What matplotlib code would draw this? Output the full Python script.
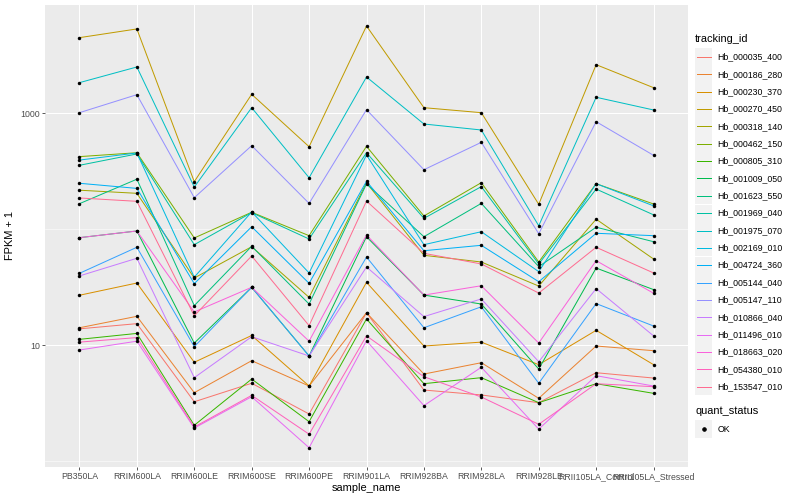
import matplotlib
matplotlib.use('Agg')
import matplotlib.pyplot as plt
from matplotlib.lines import Line2D
from matplotlib.patches import Rectangle
from matplotlib.ticker import FixedLocator, NullFormatter

plt.rcParams['font.family'] = ['Liberation Sans', 'DejaVu Sans']

# サンプル名 (x軸)
samples = ['PB350LA', 'RRIM600LA', 'RRIM600LE', 'RRIM600SE', 'RRIM600PE', 'RRIM901LA',
           'RRIM928BA', 'RRIM928LA', 'RRIM928LE', 'RRII105LA_Control', 'RRII105LA_Stressed']

# 遺伝子ID
tracking_ids = ['Hb_000035_400', 'Hb_000186_280', 'Hb_000230_370', 'Hb_000270_450', 'Hb_000318_140',
                'Hb_000462_150', 'Hb_000805_310', 'Hb_001009_050', 'Hb_001623_550', 'Hb_001969_040',
                'Hb_001975_070', 'Hb_002169_010', 'Hb_004724_360', 'Hb_005144_040', 'Hb_005147_110',
                'Hb_010866_040', 'Hb_011496_010', 'Hb_018663_020', 'Hb_054380_010', 'Hb_153547_010']

# ggplot風の色
colors = ['#F8766D', '#EA8331', '#D89000', '#C09B00', '#A3A500', '#7CAE00', '#39B600', '#00BB4E',
          '#00BF7D', '#00C1A3', '#00BFC4', '#00BAE0', '#00B0F6', '#35A2FF', '#9590FF', '#C77CFF',
          '#E76BF3', '#FA62DB', '#FF62BC', '#FF6C91']

# FPKM + 1 の値 (サンプル順)
Hb_000035_400 = [13.8, 15.3, 3.24, 4.68, 2.54, 19.0, 4.09, 3.71, 3.18, 5.77, 5.19]
Hb_000186_280 = [14.1, 17.7, 3.88, 7.33, 4.43, 19.0, 5.62, 7.04, 3.47, 9.81, 8.94]
Hb_000230_370 = [26.9, 34.3, 7.10, 12.1, 4.43, 34.8, 9.81, 10.6, 6.77, 13.4, 6.77]
Hb_000270_450 = [4500, 5350, 257, 1460, 515, 5675, 1119, 1013, 164, 2630, 1665]
Hb_000318_140 = [217, 204, 37.9, 70.6, 25.8, 252, 59.5, 52.1, 32.3, 122, 55.3]
Hb_000462_150 = [423, 457, 84.0, 140, 87.9, 519, 130, 252, 52.1, 247, 165]
Hb_000805_310 = [11.2, 12.6, 2.03, 5.09, 2.18, 16.8, 4.64, 5.23, 3.18, 4.64, 3.83]
Hb_001009_050 = [84.5, 96.5, 10.4, 31.5, 8.05, 86.1, 27.0, 22.6, 6.21, 46.2, 30.1]
Hb_001623_550 = [166, 270, 21.9, 71.2, 22.6, 246, 86.1, 167, 47.5, 104, 78.0]
Hb_001969_040 = [356, 446, 73.5, 139, 82.3, 457, 124, 233, 50.1, 222, 133]
Hb_001975_070 = [1840, 2512, 231, 1119, 278, 2060, 809, 718, 107, 1376, 1069]
Hb_002169_010 = [395, 455, 38.5, 141, 41.9, 437, 73.5, 95.1, 43.0, 247, 159]
Hb_004724_360 = [249, 225, 33.9, 105, 34.1, 259, 65.2, 72.6, 35.2, 92.2, 87.9]
Hb_005144_040 = [41.6, 69.8, 9.68, 31.5, 8.05, 57.5, 14.1, 21.4, 4.68, 22.8, 14.6]
Hb_005147_110 = [1013, 1449, 187, 526, 167, 1075, 326, 562, 91.4, 847, 434]
Hb_010866_040 = [39.5, 56.1, 5.23, 11.8, 8.05, 47.2, 17.6, 25.0, 7.18, 30.7, 12.0]
Hb_011496_010 = [9.06, 10.8, 1.92, 3.58, 1.30, 10.9, 3.00, 6.43, 1.88, 5.44, 4.43]
Hb_018663_020 = [84.5, 96.5, 19.3, 31.5, 10.8, 89.1, 27.0, 32.5, 10.4, 53.5, 28.0]
Hb_054380_010 = [10.6, 11.6, 1.96, 3.68, 1.70, 12.0, 5.33, 3.56, 2.07, 4.64, 4.37]
Hb_153547_010 = [186, 174, 17.9, 58.7, 14.7, 175, 61.9, 50.1, 28.1, 69.8, 41.9]

series = [Hb_000035_400, Hb_000186_280, Hb_000230_370, Hb_000270_450, Hb_000318_140,
          Hb_000462_150, Hb_000805_310, Hb_001009_050, Hb_001623_550, Hb_001969_040,
          Hb_001975_070, Hb_002169_010, Hb_004724_360, Hb_005144_040, Hb_005147_110,
          Hb_010866_040, Hb_011496_010, Hb_018663_020, Hb_054380_010, Hb_153547_010]

W, H = 800, 500
fig = plt.figure(figsize=(W / 72, H / 72), dpi=72)
ax = fig.add_axes([45 / W, 33 / H, 643 / W, 462 / H])
ax.set_facecolor('#EBEBEB')

xs = list(range(len(samples)))
for vals, c in zip(series, colors):
    ax.plot(xs, vals, color=c, lw=1.0, zorder=2)
for vals in series:
    ax.scatter(xs, vals, color='black', s=12, zorder=3, linewidths=0)

ax.set_yscale('log')
ax.set_ylim(0.886, 8610)
ax.set_xlim(-0.6, len(samples) - 0.4)

ax.yaxis.set_major_locator(FixedLocator([10, 1000]))
ax.yaxis.set_minor_locator(FixedLocator([1, 100]))
ax.yaxis.set_minor_formatter(NullFormatter())
ax.set_yticklabels(['10', '1000'])
ax.set_xticks(xs)
ax.set_xticklabels(samples)

ax.grid(True, which='major', color='white', lw=1.07, zorder=0)
ax.grid(True, which='minor', axis='y', color='white', lw=0.53, zorder=0)
ax.set_axisbelow(True)
for sp in ax.spines.values():
    sp.set_visible(False)
ax.tick_params(which='major', length=2.75, width=0.8, color='#333333', labelcolor='#4D4D4D',
               labelsize=8.8, pad=2)
ax.tick_params(which='minor', length=0)

ax.set_xlabel('sample_name', fontsize=11, labelpad=2)
ax.set_ylabel('FPKM + 1', fontsize=11, labelpad=6)


# 凡例は手で描く (ピクセル位置 -> 図の座標)
def fx(px):
    return px / W


def fy(py):
    return 1 - py / H


KEY = 17.28
PITCH = 17.35
kx = 695

fig.text(fx(kx), fy(39), 'tracking_id', fontsize=11, va='center', ha='left')
for i, (tid, c) in enumerate(zip(tracking_ids, colors)):
    yc = 57 + i * PITCH
    fig.add_artist(Rectangle((fx(kx), fy(yc + KEY / 2)), KEY / W, KEY / H,
                             transform=fig.transFigure, facecolor='#F2F2F2', edgecolor='none'))
    fig.add_artist(Line2D([fx(kx + 1.5), fx(kx + KEY - 1.5)], [fy(yc), fy(yc)],
                          transform=fig.transFigure, color=c, lw=1.0))
    fig.text(fx(kx + KEY + 5), fy(yc), tid, fontsize=8.8, va='center', ha='left')

fig.text(fx(kx), fy(411), 'quant_status', fontsize=11, va='center', ha='left')
yc = 429
fig.add_artist(Rectangle((fx(kx), fy(yc + KEY / 2)), KEY / W, KEY / H,
                         transform=fig.transFigure, facecolor='#F2F2F2', edgecolor='none'))
fig.add_artist(Line2D([fx(kx + KEY / 2)], [fy(yc)], transform=fig.transFigure,
                      color='black', marker='o', ls='none', markersize=3.5))
fig.text(fx(kx + KEY + 5), fy(yc), 'OK', fontsize=8.8, va='center', ha='left')

plt.savefig('out.png', dpi=72)
